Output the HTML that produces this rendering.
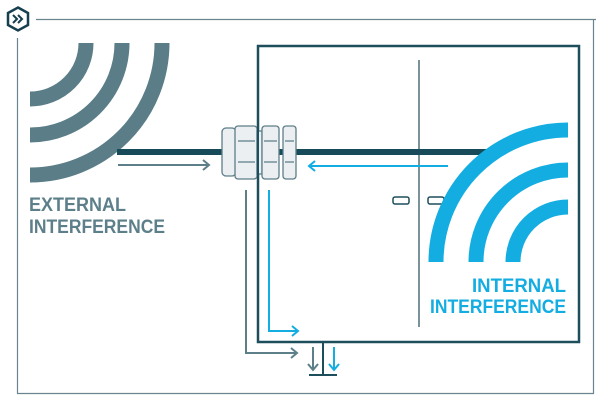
<!DOCTYPE html>
<html><head><style>html,body{margin:0;padding:0;background:#fff}svg{display:block}</style></head>
<body>
<svg width="600" height="412" viewBox="0 0 600 412" xmlns="http://www.w3.org/2000/svg">
<!-- outer frame -->
<path d="M36 19.5H596M17.5 38V393.5H593.5V19" fill="none" stroke="#6b858e" stroke-width="1.2"/>
<!-- logo -->
<polygon points="18,7.5 28,13 28,25 18,30.5 8,25 8,13" fill="none" stroke="#163f4f" stroke-width="2.5"/>
<path d="M13 15l4 4-4 4M18 15l4 4-4 4" fill="none" stroke="#163f4f" stroke-width="2"/>
<!-- external arcs -->
<g fill="none" stroke="#5a7d88" stroke-width="15">
<path d="M86 43A56 56 0 0 1 30 99"/>
<path d="M122 43A92 92 0 0 1 30 135"/>
<path d="M162 43A132 132 0 0 1 30 175"/>
</g>
<!-- cabinet -->
<rect x="258" y="46" width="321" height="296" fill="none" stroke="#1d4e5c" stroke-width="2.5"/>
<line x1="419" y1="60" x2="419" y2="327" stroke="#4f6f79" stroke-width="1.5"/>
<!-- cable -->
<line x1="117" y1="152" x2="490" y2="152" stroke="#174b5a" stroke-width="6"/>
<!-- small rects -->
<rect x="393" y="197" width="16" height="7" rx="2" fill="#fff" stroke="#1d4e5c" stroke-width="1.5"/>
<rect x="428" y="197" width="16" height="7" rx="2" fill="#fff" stroke="#1d4e5c" stroke-width="1.5"/>
<!-- internal arcs -->
<g fill="none" stroke="#13ade2" stroke-width="15">
<path d="M513 262A55 55 0 0 1 568 207"/>
<path d="M476 262A92 92 0 0 1 568 170"/>
<path d="M436 262A132 132 0 0 1 568 130"/>
</g>
<!-- gland -->
<g fill="#eceff2" stroke="#5d7d88" stroke-width="1.3">
<rect x="222" y="128" width="14" height="48" rx="4"/>
<rect x="235" y="126" width="22" height="53" rx="3"/>
<rect x="257" y="131" width="5" height="43"/>
<rect x="262" y="126" width="17" height="53" rx="3"/>
<rect x="283" y="126" width="13" height="53" rx="3"/>
</g>
<path d="M238 141h17M238 162h17M264 141h13M264 162h13M285 141h9M285 162h9" stroke="#5d7d88" stroke-width="1.3"/>
<line x1="258" y1="46" x2="258" y2="342" stroke="#1d4e5c" stroke-width="2"/>
<!-- arrows -->
<g fill="none" stroke="#5d7f8a" stroke-width="2">
<path d="M118 165H209M203 160l6 5-6 5"/>
<path d="M246 190V353H297M291 348l6 5-6 5"/>
<path d="M313 347V370M308 364l5 6 5-6"/>
</g>
<g fill="none" stroke="#13ade2" stroke-width="2">
<path d="M448 166H309M315 161l-6 5 6 5"/>
<path d="M269 190V331H298M292 326l6 5-6 5"/>
<path d="M334 347V370M329 364l5 6 5-6"/>
</g>
<!-- ground -->
<path d="M323 342V375M309 375H337" stroke="#1d4e5c" stroke-width="2" fill="none"/>
<!-- text -->
<g font-family="Liberation Sans, sans-serif" font-weight="bold" font-size="19">
<text x="29" y="211" fill="#5d7f8a" textLength="97" lengthAdjust="spacingAndGlyphs">EXTERNAL</text>
<text x="29" y="233" fill="#5d7f8a" textLength="136" lengthAdjust="spacingAndGlyphs">INTERFERENCE</text>
<text x="472" y="292" fill="#13ade2" textLength="94" lengthAdjust="spacingAndGlyphs">INTERNAL</text>
<text x="430" y="313" fill="#13ade2" textLength="136" lengthAdjust="spacingAndGlyphs">INTERFERENCE</text>
</g>
</svg>
</body></html>
